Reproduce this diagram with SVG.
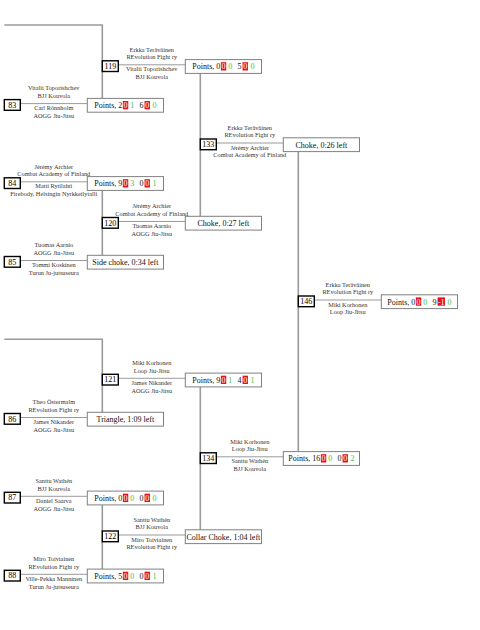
<svg xmlns="http://www.w3.org/2000/svg" width="480" height="630" viewBox="0 0 480 630">
<style>
text{font-family:"Liberation Serif","Times New Roman",serif}
.lbl{font-size:6.3px;fill:#333;text-anchor:middle}
.num{font-size:8px;fill:#000;text-anchor:middle}
.res{font-size:8px;fill:#111}
.mid{text-anchor:middle}
.nbox{fill:#fff;stroke:#000;stroke-width:1.4}
.rbox{fill:#fff;stroke:#808080;stroke-width:1}
.red{fill:#e8101a}
.w{font-size:8px;fill:#fff;text-anchor:middle}
.g{font-size:8px;fill:#44c044}
.conn path{fill:none;stroke:#9a9a9a;stroke-width:1}
.conn .v{stroke-width:1.6}
</style>
<g class="conn">
<path class="v" d="M4.3 25H102.3V98.4"/>
<path class="v" d="M102.3 190.4V255.3"/>
<path class="v" d="M4.3 339.3H102.3V412.3"/>
<path class="v" d="M102.3 504.9V569.1"/>
<path class="v" d="M200.3 73.4V216.3"/>
<path class="v" d="M200.3 386.9V529.8"/>
<path class="v" d="M298.3 151.6V451.6"/>
<path d="M20.3 103.6H87.3"/>
<path d="M20.3 181.8H87.3"/>
<path d="M20.3 260.5H87.3"/>
<path d="M20.3 417.5H87.3"/>
<path d="M20.3 496.3H87.3"/>
<path d="M20.3 574.3H87.3"/>
<path d="M118.3 64.8H185.3"/>
<path d="M118.3 221.5H185.3"/>
<path d="M118.3 378.3H185.3"/>
<path d="M118.3 535H185.3"/>
<path d="M216.3 143H283.3"/>
<path d="M216.3 456.8H283.3"/>
<path d="M314.3 300H381.3"/>
</g>

<g id="m83">
<rect class="nbox" x="4.3" y="99.6" width="16" height="10.7"/>
<text class="num" x="12.3" y="107.6">83</text>
<text class="lbl" x="53.8" y="90.3">Vitalii Toporishchev</text>
<text class="lbl" x="53.8" y="98">BJJ Kouvola</text>
<text class="lbl" x="53.8" y="110.1">Carl Rönnholm</text>
<text class="lbl" x="53.8" y="117.9">AOGG Jiu-Jitsu</text>
<rect class="rbox" x="87.3" y="98.4" width="76.2" height="13.8"/>
<text class="res" x="94.25" y="108.1">Points, 2</text>
<rect class="red" x="122.85" y="101" width="5.4" height="8.3"/>
<text class="w" x="125.55" y="108.1">0</text>
<text class="g" x="130.35" y="108.1">1</text>
<text class="res" x="139.55" y="108.1">6</text>
<rect class="red" x="144.55" y="101" width="5.4" height="8.3"/>
<text class="w" x="147.25" y="108.1">0</text>
<text class="g" x="152.55" y="108.1">0</text>
</g>

<g id="m84">
<rect class="nbox" x="4.3" y="177.8" width="16" height="10.7"/>
<text class="num" x="12.3" y="185.8">84</text>
<text class="lbl" x="53.8" y="168.5">Jérémy Archier</text>
<text class="lbl" x="53.8" y="176.2">Combat Academy of Finland</text>
<text class="lbl" x="53.8" y="188.3">Matti Rytilahti</text>
<text class="lbl" x="53.8" y="196.1">Firebody, Helsingin Nyrkkeilytalli</text>
<rect class="rbox" x="87.3" y="176.6" width="76.2" height="13.8"/>
<text class="res" x="94.25" y="186.3">Points, 9</text>
<rect class="red" x="122.85" y="179.2" width="5.4" height="8.3"/>
<text class="w" x="125.55" y="186.3">0</text>
<text class="g" x="130.35" y="186.3">3</text>
<text class="res" x="139.55" y="186.3">0</text>
<rect class="red" x="144.55" y="179.2" width="5.4" height="8.3"/>
<text class="w" x="147.25" y="186.3">0</text>
<text class="g" x="152.55" y="186.3">1</text>
</g>

<g id="m85">
<rect class="nbox" x="4.3" y="256.5" width="16" height="10.7"/>
<text class="num" x="12.3" y="264.5">85</text>
<text class="lbl" x="53.8" y="247.2">Tuomas Aarnio</text>
<text class="lbl" x="53.8" y="254.9">AOGG Jiu-Jitsu</text>
<text class="lbl" x="53.8" y="267">Tommi Koskinen</text>
<text class="lbl" x="53.8" y="274.8">Turun Ju-jutsuseura</text>
<rect class="rbox" x="87.3" y="255.3" width="76.2" height="13.8"/>
<text class="res mid" x="125.4" y="265">Side choke, 0:34 left</text>
</g>

<g id="m86">
<rect class="nbox" x="4.3" y="413.5" width="16" height="10.7"/>
<text class="num" x="12.3" y="421.5">86</text>
<text class="lbl" x="53.8" y="404.2">Theo Östermalm</text>
<text class="lbl" x="53.8" y="411.9">REvolution Fight ry</text>
<text class="lbl" x="53.8" y="424">James Nikander</text>
<text class="lbl" x="53.8" y="431.8">AOGG Jiu-Jitsu</text>
<rect class="rbox" x="87.3" y="412.3" width="76.2" height="13.8"/>
<text class="res mid" x="125.4" y="422">Triangle, 1:09 left</text>
</g>

<g id="m87">
<rect class="nbox" x="4.3" y="492.3" width="16" height="10.7"/>
<text class="num" x="12.3" y="500.3">87</text>
<text class="lbl" x="53.8" y="483">Santtu Wathén</text>
<text class="lbl" x="53.8" y="490.7">BJJ Kouvola</text>
<text class="lbl" x="53.8" y="502.8">Daniel Saarva</text>
<text class="lbl" x="53.8" y="510.6">AOGG Jiu-Jitsu</text>
<rect class="rbox" x="87.3" y="491.1" width="76.2" height="13.8"/>
<text class="res" x="94.25" y="500.8">Points, 0</text>
<rect class="red" x="122.85" y="493.7" width="5.4" height="8.3"/>
<text class="w" x="125.55" y="500.8">0</text>
<text class="g" x="130.35" y="500.8">0</text>
<text class="res" x="139.55" y="500.8">0</text>
<rect class="red" x="144.55" y="493.7" width="5.4" height="8.3"/>
<text class="w" x="147.25" y="500.8">0</text>
<text class="g" x="152.55" y="500.8">0</text>
</g>

<g id="m88">
<rect class="nbox" x="4.3" y="570.3" width="16" height="10.7"/>
<text class="num" x="12.3" y="578.3">88</text>
<text class="lbl" x="53.8" y="561">Miro Toiviainen</text>
<text class="lbl" x="53.8" y="568.7">REvolution Fight ry</text>
<text class="lbl" x="53.8" y="580.8">Ville-Pekka Manninen</text>
<text class="lbl" x="53.8" y="588.6">Turun Ju-jutsuseura</text>
<rect class="rbox" x="87.3" y="569.1" width="76.2" height="13.8"/>
<text class="res" x="94.25" y="578.8">Points, 5</text>
<rect class="red" x="122.85" y="571.7" width="5.4" height="8.3"/>
<text class="w" x="125.55" y="578.8">0</text>
<text class="g" x="130.35" y="578.8">0</text>
<text class="res" x="139.55" y="578.8">0</text>
<rect class="red" x="144.55" y="571.7" width="5.4" height="8.3"/>
<text class="w" x="147.25" y="578.8">0</text>
<text class="g" x="152.55" y="578.8">1</text>
</g>

<g id="m119">
<rect class="nbox" x="102.3" y="60.8" width="16" height="10.7"/>
<text class="num" x="110.3" y="68.8">119</text>
<text class="lbl" x="151.8" y="51.5">Erkka Teräväinen</text>
<text class="lbl" x="151.8" y="59.2">REvolution Fight ry</text>
<text class="lbl" x="151.8" y="71.3">Vitalii Toporishchev</text>
<text class="lbl" x="151.8" y="79.1">BJJ Kouvola</text>
<rect class="rbox" x="185.3" y="59.6" width="76.2" height="13.8"/>
<text class="res" x="192.25" y="69.3">Points, 0</text>
<rect class="red" x="220.85" y="62.2" width="5.4" height="8.3"/>
<text class="w" x="223.55" y="69.3">0</text>
<text class="g" x="228.35" y="69.3">0</text>
<text class="res" x="237.55" y="69.3">5</text>
<rect class="red" x="242.55" y="62.2" width="5.4" height="8.3"/>
<text class="w" x="245.25" y="69.3">0</text>
<text class="g" x="250.55" y="69.3">0</text>
</g>

<g id="m120">
<rect class="nbox" x="102.3" y="217.5" width="16" height="10.7"/>
<text class="num" x="110.3" y="225.5">120</text>
<text class="lbl" x="151.8" y="208.2">Jérémy Archier</text>
<text class="lbl" x="151.8" y="215.9">Combat Academy of Finland</text>
<text class="lbl" x="151.8" y="228">Tuomas Aarnio</text>
<text class="lbl" x="151.8" y="235.8">AOGG Jiu-Jitsu</text>
<rect class="rbox" x="185.3" y="216.3" width="76.2" height="13.8"/>
<text class="res mid" x="223.4" y="226">Choke, 0:27 left</text>
</g>

<g id="m121">
<rect class="nbox" x="102.3" y="374.3" width="16" height="10.7"/>
<text class="num" x="110.3" y="382.3">121</text>
<text class="lbl" x="151.8" y="365">Miki Korhonen</text>
<text class="lbl" x="151.8" y="372.7">Loop Jiu-Jitsu</text>
<text class="lbl" x="151.8" y="384.8">James Nikander</text>
<text class="lbl" x="151.8" y="392.6">AOGG Jiu-Jitsu</text>
<rect class="rbox" x="185.3" y="373.1" width="76.2" height="13.8"/>
<text class="res" x="192.25" y="382.8">Points, 9</text>
<rect class="red" x="220.85" y="375.7" width="5.4" height="8.3"/>
<text class="w" x="223.55" y="382.8">0</text>
<text class="g" x="228.35" y="382.8">1</text>
<text class="res" x="237.55" y="382.8">4</text>
<rect class="red" x="242.55" y="375.7" width="5.4" height="8.3"/>
<text class="w" x="245.25" y="382.8">0</text>
<text class="g" x="250.55" y="382.8">1</text>
</g>

<g id="m122">
<rect class="nbox" x="102.3" y="531" width="16" height="10.7"/>
<text class="num" x="110.3" y="539">122</text>
<text class="lbl" x="151.8" y="521.7">Santtu Wathén</text>
<text class="lbl" x="151.8" y="529.4">BJJ Kouvola</text>
<text class="lbl" x="151.8" y="541.5">Miro Toiviainen</text>
<text class="lbl" x="151.8" y="549.3">REvolution Fight ry</text>
<rect class="rbox" x="185.3" y="529.8" width="76.2" height="13.8"/>
<text class="res mid" x="223.4" y="539.5">Collar Choke, 1:04 left</text>
</g>

<g id="m133">
<rect class="nbox" x="200.3" y="139" width="16" height="10.7"/>
<text class="num" x="208.3" y="147">133</text>
<text class="lbl" x="249.8" y="129.7">Erkka Teräväinen</text>
<text class="lbl" x="249.8" y="137.4">REvolution Fight ry</text>
<text class="lbl" x="249.8" y="149.5">Jérémy Archier</text>
<text class="lbl" x="249.8" y="157.3">Combat Academy of Finland</text>
<rect class="rbox" x="283.3" y="137.8" width="76.2" height="13.8"/>
<text class="res mid" x="321.4" y="147.5">Choke, 0:26 left</text>
</g>

<g id="m134">
<rect class="nbox" x="200.3" y="452.8" width="16" height="10.7"/>
<text class="num" x="208.3" y="460.8">134</text>
<text class="lbl" x="249.8" y="443.5">Miki Korhonen</text>
<text class="lbl" x="249.8" y="451.2">Loop Jiu-Jitsu</text>
<text class="lbl" x="249.8" y="463.3">Santtu Wathén</text>
<text class="lbl" x="249.8" y="471.1">BJJ Kouvola</text>
<rect class="rbox" x="283.3" y="451.6" width="76.2" height="13.8"/>
<text class="res" x="288.25" y="461.3">Points, 16</text>
<rect class="red" x="320.85" y="454.2" width="5.4" height="8.3"/>
<text class="w" x="323.55" y="461.3">0</text>
<text class="g" x="328.35" y="461.3">0</text>
<text class="res" x="337.55" y="461.3">0</text>
<rect class="red" x="342.55" y="454.2" width="5.4" height="8.3"/>
<text class="w" x="345.25" y="461.3">0</text>
<text class="g" x="350.55" y="461.3">2</text>
</g>

<g id="m146">
<rect class="nbox" x="298.3" y="296" width="16" height="10.7"/>
<text class="num" x="306.3" y="304">146</text>
<text class="lbl" x="347.8" y="286.7">Erkka Teräväinen</text>
<text class="lbl" x="347.8" y="294.4">REvolution Fight ry</text>
<text class="lbl" x="347.8" y="306.5">Miki Korhonen</text>
<text class="lbl" x="347.8" y="314.3">Loop Jiu-Jitsu</text>
<rect class="rbox" x="381.3" y="294.8" width="76.2" height="13.8"/>
<text class="res" x="387.25" y="304.5">Points, 0</text>
<rect class="red" x="415.85" y="297.4" width="5.4" height="8.3"/>
<text class="w" x="418.55" y="304.5">0</text>
<text class="g" x="423.35" y="304.5">0</text>
<text class="res" x="432.55" y="304.5">9</text>
<rect class="red" x="437.55" y="297.4" width="7.4" height="8.3"/>
<text class="w" x="441.25" y="304.5">-1</text>
<text class="g" x="447.55" y="304.5">0</text>
</g>
</svg>
